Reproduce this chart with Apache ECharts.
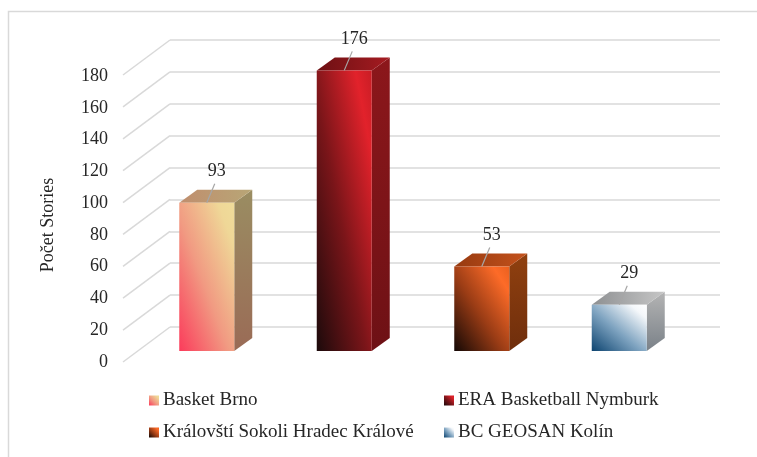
<!DOCTYPE html>
<html>
<head>
<meta charset="utf-8">
<script src="https://cdn.jsdelivr.net/npm/echarts@6/dist/echarts.min.js"></script>
<style>
  html, body { margin: 0; padding: 0; background: #fff; }
  #chart { width: 757px; height: 457px; }
</style>
</head>
<body>
<div id="chart"></div>
<script>
const teams = ['Basket Brno', 'ERA Basketball Nymburk', 'Královští Sokoli Hradec Králové', 'BC GEOSAN Kolín'];
const stories = [93, 176, 53, 29];
const yTicks = [0, 20, 40, 60, 80, 100, 120, 140, 160, 180];

// colours of each box: front gradient stops, side (top -> bottom), top (left -> right)
const faceColors = [
  { front: ['#fb3b5b', '#f19a82', '#efd797', '#efdc9a'], side: ['#9a8d62', '#9a6b56'], top: ['#c08e6e', '#b8a676'] },
  { front: ['#1c0a0b', '#7a1519', '#e2222b', '#c81d25'], side: ['#8c171b', '#6e1115'], top: ['#6d1013', '#a51b21'] },
  { front: ['#140805', '#9a3c15', '#fd6b28', '#e9601f'], side: ['#90400f', '#6f2e0c'], top: ['#973a10', '#c4521c'] },
  { front: ['#0d4470', '#7ea3c0', '#f4f7fa', '#ffffff'], side: ['#b4b4b4', '#7a8188'], top: ['#8e9092', '#c6c6c6'] }
];
const stopPos = [0, 0.45, 0.85, 1];

const FONT = 'Liberation Serif';
const TEXT = '#262626';
const GRID_LINE = '#d9d9d9';
// 3d projection: wall depth and where the boxes sit
const WALL_DX = -47, WALL_DY = 35;
const BOX_DX = -32, BOX_DY = 24;
const DEPTH_DX = 18, DEPTH_DY = -13;

const stops = (cols) => cols.map((c, i) => ({ offset: stopPos[i], color: c }));

// diagonal gradient whose isolines follow the anti-diagonal of the face
function diagGrad(x, y, w, h, cols) {
  const a = 2 * w * h / (w * w + h * h);
  return {
    type: 'linear', global: true,
    x: x, y: y + h, x2: x + a * h, y2: y + h - a * w,
    colorStops: stops(cols)
  };
}

const chart = echarts.init(document.getElementById('chart'), null, { renderer: 'canvas' });

const boxSeries = teams.map((name, i) => ({
  name: name,
  type: 'custom',
  xAxisIndex: 0,
  yAxisIndex: 0,
  clip: false,
  z: 3,
  itemStyle: {
    color: { type: 'linear', x: 0, y: 1, x2: 1, y2: 0, colorStops: stops(faceColors[i].front) }
  },
  data: [[i, stories[i]]],
  renderItem: (params, api) => {
    const cat = api.value(0);
    const v = api.value(1);
    const p = api.coord([cat, v]);
    const p0 = api.coord([cat, 0]);
    const w = api.size([1, 0])[0] * 0.4;
    const left = p[0] + BOX_DX - w / 2;
    const right = left + w;
    const top = p[1] + BOX_DY;
    const bottom = p0[1] + BOX_DY;
    const h = bottom - top;
    const fc = faceColors[i];
    const cx = (left + right) / 2;
    return {
      type: 'group',
      children: [
        {
          type: 'polygon',
          shape: { points: [[right, top], [right + DEPTH_DX, top + DEPTH_DY], [right + DEPTH_DX, bottom + DEPTH_DY], [right, bottom]] },
          style: { fill: { type: 'linear', x: 0, y: 0, x2: 0, y2: 1, colorStops: [{ offset: 0, color: fc.side[0] }, { offset: 1, color: fc.side[1] }] } }
        },
        {
          type: 'polygon',
          shape: { points: [[left, top], [left + DEPTH_DX, top + DEPTH_DY], [right + DEPTH_DX, top + DEPTH_DY], [right, top]] },
          style: { fill: { type: 'linear', x: 0, y: 0, x2: 1, y2: 0, colorStops: [{ offset: 0, color: fc.top[0] }, { offset: 1, color: fc.top[1] }] } }
        },
        {
          type: 'rect',
          shape: { x: left, y: top, width: w, height: h },
          style: { fill: diagGrad(left, top, w, h, fc.front) }
        },
        {
          type: 'line',
          shape: { x1: cx, y1: top, x2: cx + 8, y2: top - 19 },
          style: { stroke: '#a6a6a6', lineWidth: 1.2 }
        },
        {
          type: 'text',
          style: {
            x: cx + 10, y: top - 31, text: String(v),
            align: 'center', verticalAlign: 'middle',
            font: '18px "' + FONT + '"', fill: TEXT
          }
        }
      ]
    };
  }
}));

const legendText = { fontFamily: FONT, fontSize: 19, color: TEXT, lineHeight: 19, padding: [0, 0, 0, -1] };

const option = {
  animation: false,
  backgroundColor: '#fff',
  graphic: [{
    type: 'rect', silent: true, z: -10,
    shape: { x: 8.5, y: 11.5, width: 800, height: 500 },
    style: { fill: 'none', stroke: GRID_LINE, lineWidth: 1.5 }
  }],
  grid: [
    { left: 170, right: 37, top: 40, bottom: 130 },
    { left: 123, width: 1, top: 76, height: 286 }
  ],
  xAxis: [
    { type: 'category', gridIndex: 0, data: teams, axisLine: { show: false }, axisTick: { show: false }, axisLabel: { show: false } },
    { type: 'category', gridIndex: 1, data: teams, show: false }
  ],
  yAxis: [
    {
      type: 'value', gridIndex: 0, min: 0, max: 180, interval: 20,
      axisLine: { show: false }, axisTick: { show: false }, axisLabel: { show: false },
      splitLine: { lineStyle: { color: GRID_LINE, width: 1.5 } }
    },
    {
      type: 'value', gridIndex: 1, min: 0, max: 180, interval: 20,
      name: 'Počet Stories', nameLocation: 'middle', nameGap: 66,
      nameTextStyle: { fontFamily: FONT, fontSize: 18, color: TEXT, padding: [0, 12, 0, 0] },
      axisLine: { show: false }, axisTick: { show: false }, splitLine: { show: false },
      axisLabel: { margin: 15, fontFamily: FONT, fontSize: 18, color: TEXT }
    }
  ],
  legend: [
    {
      left: 149, top: 391, orient: 'vertical', padding: 0, itemGap: 13,
      itemWidth: 10, itemHeight: 10, icon: 'rect', selectedMode: false,
      data: [teams[0], teams[2]],
      textStyle: legendText
    },
    {
      left: 444, top: 391, orient: 'vertical', padding: 0, itemGap: 13,
      itemWidth: 10, itemHeight: 10, icon: 'rect', selectedMode: false,
      data: [teams[1], teams[3]],
      textStyle: legendText
    }
  ],
  series: [
    {
      name: 'wall',
      type: 'custom',
      xAxisIndex: 0,
      yAxisIndex: 0,
      silent: true,
      clip: false,
      z: 1,
      data: yTicks.map(t => [0, t]),
      renderItem: (params, api) => {
        const y = api.coord([0, api.value(1)])[1];
        const x = params.coordSys.x;
        return {
          type: 'line',
          shape: { x1: x + WALL_DX, y1: y + WALL_DY, x2: x, y2: y },
          style: { stroke: GRID_LINE, lineWidth: 1.5 }
        };
      }
    },
    ...boxSeries
  ]
};

chart.setOption(option);
</script>
</body>
</html>
